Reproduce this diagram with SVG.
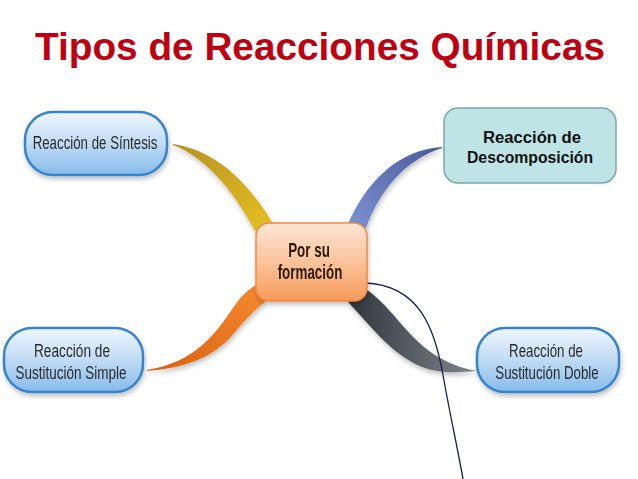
<svg xmlns="http://www.w3.org/2000/svg" width="638" height="479" viewBox="0 0 638 479">
<defs>
<linearGradient id="pill" x1="0" y1="0" x2="0" y2="1">
<stop offset="0" stop-color="#eef6fd"/>
<stop offset="0.45" stop-color="#c6def5"/>
<stop offset="1" stop-color="#86bbec"/>
</linearGradient>
<linearGradient id="core" x1="0" y1="0" x2="0" y2="1">
<stop offset="0" stop-color="#fee6d4"/>
<stop offset="0.5" stop-color="#fbc39b"/>
<stop offset="1" stop-color="#f69a58"/>
</linearGradient>
<linearGradient id="gold" x1="0" y1="0" x2="1" y2="1">
<stop offset="0" stop-color="#b89020"/>
<stop offset="1" stop-color="#e4c020"/>
</linearGradient>
<linearGradient id="slate" x1="1" y1="0" x2="0" y2="1">
<stop offset="0" stop-color="#4a5a9a"/>
<stop offset="1" stop-color="#7e92d2"/>
</linearGradient>
<linearGradient id="orng" x1="0" y1="1" x2="1" y2="0">
<stop offset="0" stop-color="#d86010"/>
<stop offset="1" stop-color="#f68a30"/>
</linearGradient>
<linearGradient id="gray" x1="0" y1="0" x2="1" y2="0">
<stop offset="0" stop-color="#30353c"/>
<stop offset="1" stop-color="#80868c"/>
</linearGradient>
<filter id="sh" x="-20%" y="-20%" width="140%" height="150%">
<feGaussianBlur in="SourceAlpha" stdDeviation="2.5"/>
<feOffset dx="1" dy="3" result="b"/>
<feComponentTransfer><feFuncA type="linear" slope="0.25"/></feComponentTransfer>
<feMerge><feMergeNode/><feMergeNode in="SourceGraphic"/></feMerge>
</filter>
</defs>
<style>
.pill{fill:url(#pill);stroke:#3584cc;stroke-width:2.5}
.lbl{font-family:"Liberation Sans",Arial,sans-serif;font-size:19px;fill:#2b2b2b;text-anchor:middle}
.core{fill:url(#core);stroke:#ee8a42;stroke-width:1.5}
.ctr{font-family:"Liberation Sans",Arial,sans-serif;font-size:20px;font-weight:bold;fill:#2a1a10;text-anchor:middle}
.dec{fill:#bfe4e6;stroke:#7aa9aa;stroke-width:1.5}
.bold{font-family:"Liberation Sans",Arial,sans-serif;font-size:16px;font-weight:bold;fill:#111;text-anchor:middle}
</style>
<rect width="638" height="479" fill="#ffffff"/>
<text x="320" y="60" font-family="'Liberation Sans',Arial,sans-serif" font-size="38" font-weight="bold" fill="#c00010" text-anchor="middle" textLength="570" lengthAdjust="spacingAndGlyphs">Tipos de Reacciones Químicas</text>

<g id="connectors">
<path d="M173,144 C215,150 248,182 272,222 L255,231 C238,200 212,160 173,145 Z" fill="url(#gold)" filter="url(#sh)"/>
<path d="M442,147 C400,150 368,178 347,226 L366,228 C380,190 405,160 442,148 Z" fill="url(#slate)" filter="url(#sh)"/>
<path d="M147,370 C195,362 215,335 235,305 C242,295 250,288 258,284 L265,302 C252,312 242,324 230,338 C210,358 185,368 147,371 Z" fill="url(#orng)" filter="url(#sh)"/>
<path d="M366,289 C395,310 408,340 440,358 C455,366 465,369 477,371 C455,373 438,373 422,367 C392,354 376,332 348,302 Z" fill="url(#gray)" filter="url(#sh)"/>
<path d="M365,283 C420,285 435,330 443,375 C450,415 457,445 463,479" fill="none" stroke="#1c1c58" stroke-width="1.3"/>
</g>

<g id="n-sintesis" filter="url(#sh)">
<rect class="pill" x="25" y="112" width="142" height="63" rx="28"/>
<text class="lbl" transform="translate(95,149) scale(0.7,1)">Reacción de Síntesis</text>
</g>

<g id="n-descomposicion">
<rect class="dec" x="444" y="108" width="172" height="75" rx="14"/>
<text class="bold" x="532" y="143" textLength="98" lengthAdjust="spacingAndGlyphs">Reacción de</text>
<text class="bold" x="530" y="163" textLength="126" lengthAdjust="spacingAndGlyphs">Descomposición</text>
</g>

<g id="n-simple" filter="url(#sh)">
<rect class="pill" x="4" y="328" width="139" height="64" rx="28"/>
<text class="lbl" transform="translate(72,357) scale(0.72,1)">Reacción de</text>
<text class="lbl" transform="translate(71,379) scale(0.71,1)">Sustitución Simple</text>
</g>

<g id="n-doble" filter="url(#sh)">
<rect class="pill" x="477" y="328" width="142" height="64" rx="28"/>
<text class="lbl" transform="translate(546,357) scale(0.7,1)">Reacción de</text>
<text class="lbl" transform="translate(547,379) scale(0.7,1)">Sustitución Doble</text>
</g>

<g id="n-centro" filter="url(#sh)">
<rect class="core" x="256" y="223" width="111" height="78" rx="13"/>
<text class="ctr" transform="translate(309,257) scale(0.67,1)">Por su</text>
<text class="ctr" transform="translate(310,279) scale(0.67,1)">formación</text>
</g>
</svg>
